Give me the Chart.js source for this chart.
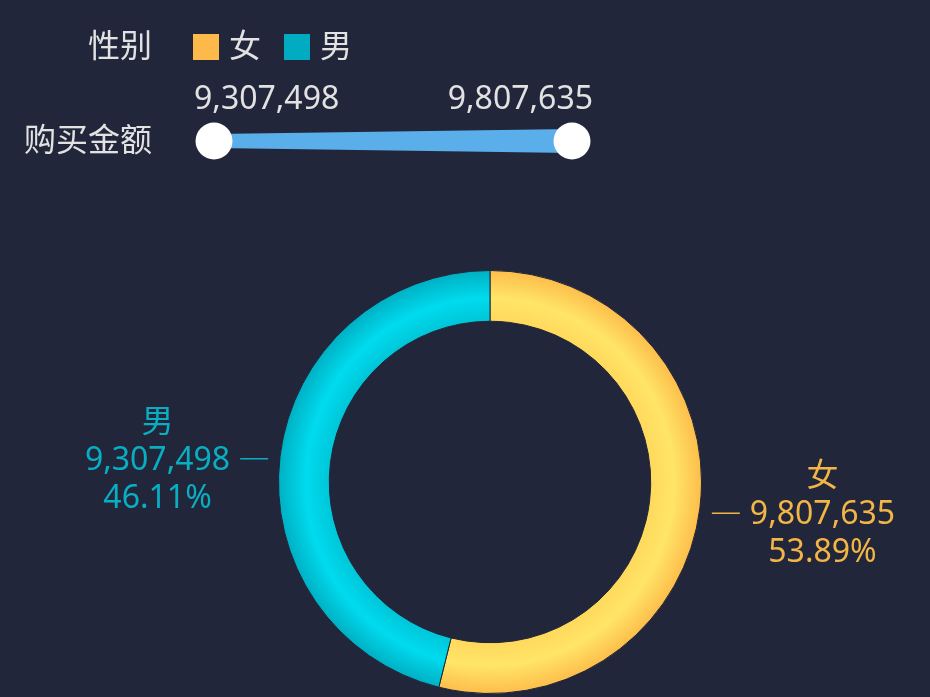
<!DOCTYPE html>
<html>
<head>
<meta charset="utf-8">
<script src="https://cdn.jsdelivr.net/npm/chart.js@4/dist/chart.umd.min.js"></script>
<style>
  html, body { margin: 0; padding: 0; background: #21263a; }
  #wrap { width: 930px; height: 697px; position: relative; }
</style>
</head>
<body>
<div id="wrap"><canvas id="genderChart"></canvas></div>
<script>
const genders = ['女', '男'];
const amounts = [9807635, 9307498];
const shares = [53.89, 46.11];
const legendTitle = '性别';
const rangeTitle = '购买金额';

const FONT = '32px "Noto Sans", "Noto Sans CJK SC", sans-serif';
const SWATCH = ['#fdb94a', '#01abc1'];
const LABEL_COLORS = ['#f3b545', '#0aaec3'];
const GRADIENTS = [
  ['#ffd95c', '#ffe567', '#fdbd4b'],
  ['#00c6d9', '#00dbee', '#00afc3'],
];
const CUTOUT = 0.76;

function fmt(n) {
  return n.toLocaleString('en-US');
}

function sliceFill(context) {
  const chart = context.chart;
  const area = chart.chartArea;
  if (!area) return SWATCH[context.dataIndex];
  const cx = (area.left + area.right) / 2;
  const cy = (area.top + area.bottom) / 2;
  const outer = Math.min(area.width, area.height) / 2;
  const inner = outer * CUTOUT;
  const g = chart.ctx.createRadialGradient(cx, cy, inner, cx, cy, outer);
  const stops = GRADIENTS[context.dataIndex];
  g.addColorStop(0, stops[0]);
  g.addColorStop(0.45, stops[1]);
  g.addColorStop(1, stops[2]);
  return g;
}

// slice labels with short leader lines
const sliceLabels = {
  id: 'sliceLabels',
  afterDatasetsDraw(chart) {
    const { ctx } = chart;
    const meta = chart.getDatasetMeta(0);
    ctx.save();
    ctx.font = FONT;
    ctx.textBaseline = 'middle';
    ctx.textAlign = 'center';
    meta.data.forEach((arc, i) => {
      const { x, y, startAngle, endAngle, outerRadius } =
        arc.getProps(['x', 'y', 'startAngle', 'endAngle', 'outerRadius'], true);
      const mid = (startAngle + endAngle) / 2;
      const dx = Math.cos(mid);
      const dy = Math.sin(mid);
      const side = dx >= 0 ? 1 : -1;
      const p1x = x + dx * (outerRadius + 12);
      const p1y = y + dy * (outerRadius + 12) + 4;
      const p2x = p1x + side * 28;
      const color = LABEL_COLORS[i];

      ctx.strokeStyle = color;
      ctx.lineWidth = 1.5;
      ctx.beginPath();
      ctx.moveTo(p1x, p1y);
      ctx.lineTo(p2x, p1y);
      ctx.stroke();

      const lines = [genders[i], fmt(amounts[i]), shares[i].toFixed(2) + '%'];
      const maxW = Math.max(...lines.map((t) => ctx.measureText(t).width));
      const tx = p2x + side * (10 + maxW / 2);
      ctx.fillStyle = color;
      lines.forEach((t, k) => {
        ctx.fillText(t, tx, p1y + 2 + (k - 1) * 38);
      });
    });
    ctx.restore();
  },
};

// legend row and range slider at the top
const topControls = {
  id: 'topControls',
  afterDraw(chart) {
    const { ctx } = chart;
    ctx.save();
    ctx.font = FONT;
    ctx.textBaseline = 'middle';

    ctx.fillStyle = '#e2e2e2';
    ctx.textAlign = 'right';
    ctx.fillText(legendTitle, 152, 48);
    ctx.fillText(rangeTitle, 152, 142);

    let lx = 193;
    ctx.textAlign = 'left';
    genders.forEach((g, i) => {
      ctx.fillStyle = SWATCH[i];
      ctx.fillRect(lx, 34, 26, 26);
      ctx.fillStyle = '#e2e2e2';
      ctx.fillText(g, lx + 36, 48);
      lx += 36 + ctx.measureText(g).width + 23;
    });

    const lo = Math.min(...amounts);
    const hi = Math.max(...amounts);
    ctx.fillStyle = '#e2e2e2';
    ctx.textAlign = 'left';
    ctx.fillText(fmt(lo), 194, 100);
    ctx.textAlign = 'right';
    ctx.fillText(fmt(hi), 593, 100);

    const x0 = 214, x1 = 572, cy = 141;
    ctx.fillStyle = '#5aaeea';
    ctx.beginPath();
    ctx.moveTo(x0, cy - 7);
    ctx.lineTo(x1, cy - 12);
    ctx.lineTo(x1, cy + 12);
    ctx.lineTo(x0, cy + 7);
    ctx.closePath();
    ctx.fill();

    ctx.fillStyle = '#ffffff';
    [x0, x1].forEach((hx) => {
      ctx.beginPath();
      ctx.arc(hx, cy, 18.5, 0, Math.PI * 2);
      ctx.fill();
    });
    ctx.restore();
  },
};

new Chart(document.getElementById('genderChart'), {
  type: 'doughnut',
  data: {
    labels: genders,
    datasets: [
      {
        data: shares,
        backgroundColor: sliceFill,
        borderColor: '#21263a',
        borderWidth: 1,
        hoverOffset: 0,
      },
    ],
  },
  options: {
    responsive: true,
    maintainAspectRatio: false,
    animation: false,
    cutout: CUTOUT * 100 + '%',
    layout: {
      padding: { top: 270, bottom: 3, left: 278, right: 228 },
    },
    plugins: {
      legend: { display: false },
      tooltip: { enabled: false },
    },
  },
  plugins: [sliceLabels, topControls],
});
</script>
</body>
</html>
